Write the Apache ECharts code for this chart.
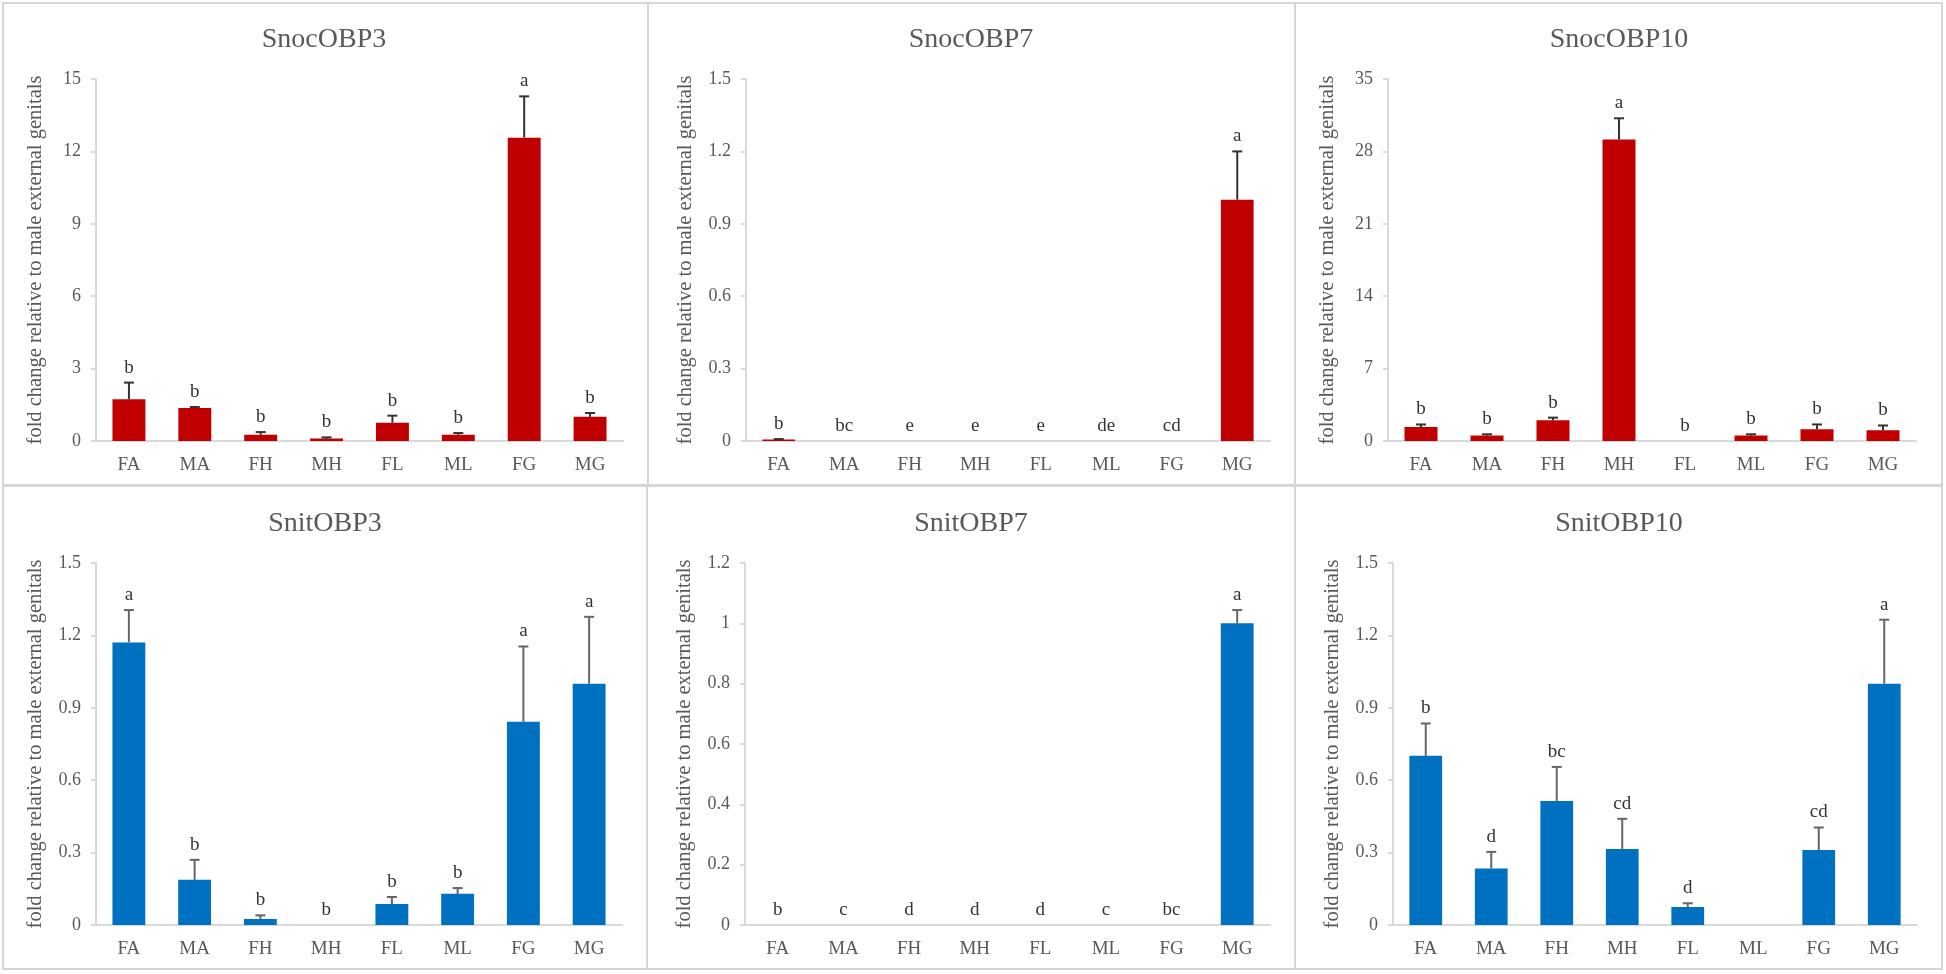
<!DOCTYPE html>
<html><head><meta charset="utf-8">
<script src="https://cdn.jsdelivr.net/npm/echarts@6/dist/echarts.min.js"></script>
<style>html,body{margin:0;padding:0;background:#fff}#c{width:1946px;height:974px}</style>
</head><body><div id="c"></div>
<script>
// ---------- DATA ----------
const categories = ['FA', 'MA', 'FH', 'MH', 'FL', 'ML', 'FG', 'MG'];
const geneNames = ['SnocOBP3', 'SnocOBP7', 'SnocOBP10', 'SnitOBP3', 'SnitOBP7', 'SnitOBP10'];
const axisTitle = 'fold change relative to male external genitals';

const snocOBP3 = [1.73, 1.37, 0.26, 0.10, 0.76, 0.26, 12.57, 1.00];
const snocOBP3Err = [0.69, 0.04, 0.11, 0.05, 0.29, 0.07, 1.71, 0.16];
const snocOBP3Letters = ['b', 'b', 'b', 'b', 'b', 'b', 'a', 'b'];

const snocOBP7 = [0.006, 0, 0, 0, 0, 0, 0, 1.00];
const snocOBP7Err = [0.002, 0, 0, 0, 0, 0, 0, 0.20];
const snocOBP7Letters = ['b', 'bc', 'e', 'e', 'e', 'de', 'cd', 'a'];

const snocOBP10 = [1.35, 0.52, 2.00, 29.16, 0, 0.52, 1.13, 1.03];
const snocOBP10Err = [0.25, 0.13, 0.26, 2.04, 0, 0.13, 0.47, 0.47];
const snocOBP10Letters = ['b', 'b', 'b', 'a', 'b', 'b', 'b', 'b'];

const snitOBP3 = [1.171, 0.187, 0.025, 0, 0.087, 0.129, 0.842, 1.00];
const snitOBP3Err = [0.134, 0.083, 0.015, 0, 0.029, 0.024, 0.312, 0.277];
const snitOBP3Letters = ['a', 'b', 'b', 'b', 'b', 'b', 'a', 'a'];

const snitOBP7 = [0, 0, 0, 0, 0, 0, 0, 1.00];
const snitOBP7Err = [0, 0, 0, 0, 0, 0, 0, 0.044];
const snitOBP7Letters = ['b', 'c', 'd', 'd', 'd', 'c', 'bc', 'a'];

const snitOBP10 = [0.701, 0.234, 0.514, 0.315, 0.075, 0, 0.311, 1.00];
const snitOBP10Err = [0.134, 0.069, 0.141, 0.125, 0.015, 0, 0.093, 0.265];
const snitOBP10Letters = ['b', 'd', 'bc', 'cd', 'd', '', 'cd', 'a'];

const yMax = [15, 1.5, 35, 1.5, 1.2, 1.5];
const yInterval = [3, 0.3, 7, 0.3, 0.2, 0.3];

// ---------- LAYOUT / STYLE ----------
const RED = '#C00000', BLUE = '#0070C0';
const FONT = '"Liberation Serif", "Times New Roman", serif';
const panels = [
  { vals: snocOBP3, errs: snocOBP3Err, letters: snocOBP3Letters, color: RED, errColor: '#333333' },
  { vals: snocOBP7, errs: snocOBP7Err, letters: snocOBP7Letters, color: RED, errColor: '#333333' },
  { vals: snocOBP10, errs: snocOBP10Err, letters: snocOBP10Letters, color: RED, errColor: '#333333' },
  { vals: snitOBP3, errs: snitOBP3Err, letters: snitOBP3Letters, color: BLUE, errColor: '#666666' },
  { vals: snitOBP7, errs: snitOBP7Err, letters: snitOBP7Letters, color: BLUE, errColor: '#666666' },
  { vals: snitOBP10, errs: snitOBP10Err, letters: snitOBP10Letters, color: BLUE, errColor: '#666666' }
];
const gridBoxes = [
  { left: 96, top: 79, width: 527, height: 362 },
  { left: 746, top: 79, width: 524, height: 362 },
  { left: 1388, top: 79, width: 528, height: 362 },
  { left: 96, top: 563, width: 526, height: 362 },
  { left: 745, top: 563, width: 525, height: 362 },
  { left: 1393, top: 563, width: 524, height: 362 }
];
const titlePos = [[324, 40], [971, 40], [1619, 40], [325, 524], [971, 524], [1619, 524]];
const panelRects = [
  [3, 3, 645, 482], [648, 3, 647, 482], [1295, 3, 647, 482],
  [3, 486, 644, 483], [647, 486, 648, 483], [1295, 486, 647, 483]
];

function makeRender(p) {
  return function (params, api) {
    const i = api.value(0);
    const v = p.vals[i], e = p.errs[i];
    const p0 = api.coord([i, v]);
    const p1 = api.coord([i, v + e]);
    const children = [];
    if (e > 0) {
      children.push({ type: 'line', shape: { x1: p0[0], y1: p0[1], x2: p1[0], y2: p1[1] }, style: { stroke: p.errColor, lineWidth: 2 } });
      children.push({ type: 'line', shape: { x1: p1[0] - 5, y1: p1[1], x2: p1[0] + 5, y2: p1[1] }, style: { stroke: p.errColor, lineWidth: 2 } });
    }
    if (p.letters[i]) {
      children.push({ type: 'text', x: p1[0], y: p1[1] - 15, style: { text: p.letters[i], fill: '#333333', font: '19px ' + FONT, align: 'center', verticalAlign: 'middle' } });
    }
    return { type: 'group', children: children };
  };
}

const grid = [], xAxis = [], yAxis = [], series = [], graphic = [];
panelRects.forEach(r => graphic.push({ type: 'rect', shape: { x: r[0], y: r[1], width: r[2], height: r[3] }, style: { fill: 'none', stroke: '#d6d6d6', lineWidth: 2 }, silent: true }));
panels.forEach((p, k) => {
  grid.push(Object.assign({ containLabel: false }, gridBoxes[k]));
  xAxis.push({
    type: 'category', gridIndex: k, data: categories,
    axisLine: { lineStyle: { color: '#d9d9d9', width: 2 } },
    axisTick: { show: false },
    axisLabel: { color: '#595959', fontFamily: FONT, fontSize: 19, margin: 15 }
  });
  yAxis.push({
    type: 'value', gridIndex: k, min: 0, max: yMax[k], interval: yInterval[k],
    name: axisTitle, nameLocation: 'middle', nameGap: 50, nameRotate: 90,
    nameTextStyle: { color: '#595959', fontFamily: FONT, fontSize: 20.5 },
    axisLine: { show: true, lineStyle: { color: '#d9d9d9', width: 2 } },
    axisTick: { show: true, length: 5, lineStyle: { color: '#d9d9d9', width: 2 } },
    splitLine: { show: false },
    axisLabel: { color: '#595959', fontFamily: FONT, fontSize: 18, margin: 15 }
  });
  series.push({
    type: 'bar', xAxisIndex: k, yAxisIndex: k, data: p.vals, barWidth: '50%',
    itemStyle: { color: p.color }, silent: true
  });
  series.push({
    type: 'custom', xAxisIndex: k, yAxisIndex: k, renderItem: makeRender(p),
    data: categories.map((c, i) => [i, p.vals[i] + p.errs[i]]),
    encode: { x: 0, y: 1 }, silent: true, z: 5
  });
  graphic.push({ type: 'text', x: titlePos[k][0], y: titlePos[k][1], style: { text: geneNames[k], fill: '#595959', font: '28px ' + FONT, align: 'center', verticalAlign: 'middle' }, silent: true });
});

const chart = echarts.init(document.getElementById('c'), null, { renderer: 'canvas' });
chart.setOption({ backgroundColor: '#ffffff', animation: false, grid, xAxis, yAxis, series, graphic });
</script>
</body></html>
